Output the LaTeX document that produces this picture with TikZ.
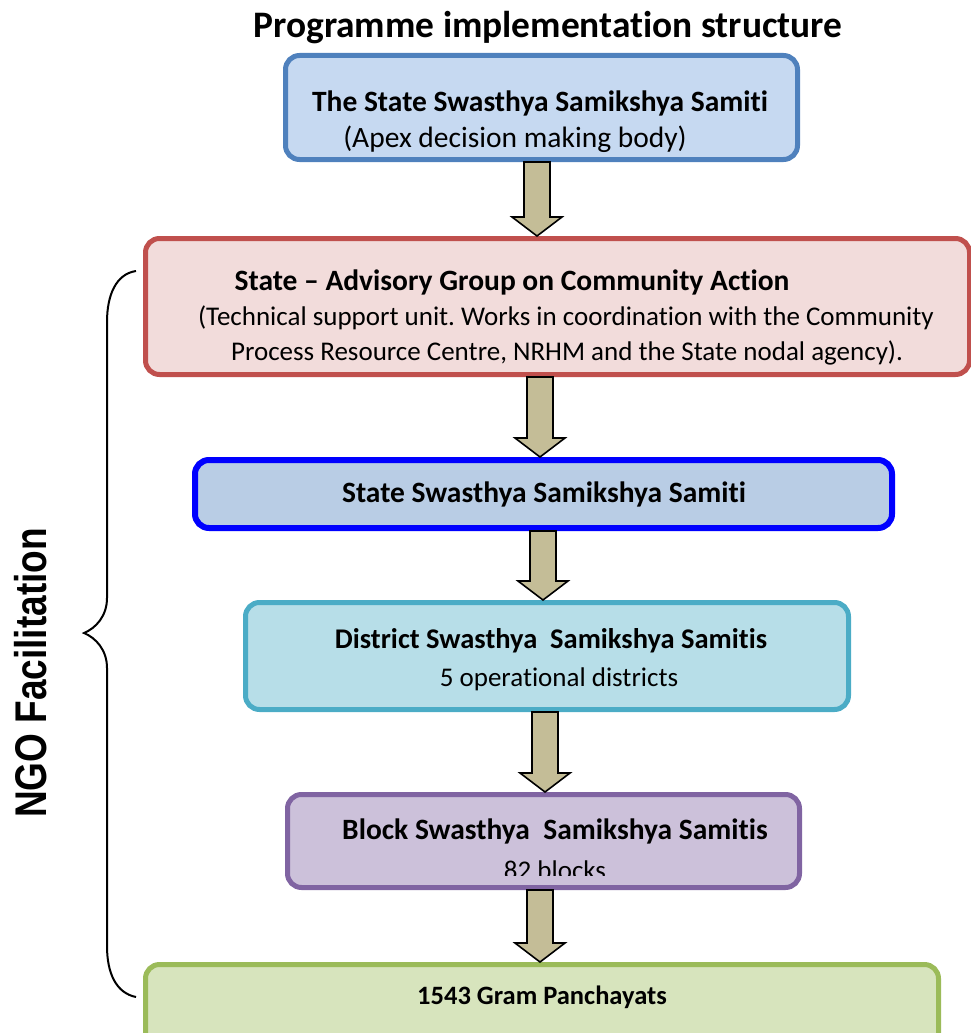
\documentclass[tikz,border=0pt]{standalone}
\usepackage{fontspec}
\setmainfont{Carlito}[Ligatures=NoCommon]
\newfontfamily\arialfont{Liberation Sans}
\usetikzlibrary{calc}
\frenchspacing
\definecolor{bAfill}{HTML}{C6D9F1}
\definecolor{bAline}{HTML}{4F81BD}
\definecolor{bRfill}{HTML}{F2DCDB}
\definecolor{bRline}{HTML}{C0504D}
\definecolor{bBfill}{HTML}{B9CDE5}
\definecolor{bBline}{HTML}{0000FF}
\definecolor{bCfill}{HTML}{B7DEE8}
\definecolor{bCline}{HTML}{4BACC6}
\definecolor{bPfill}{HTML}{CCC1DA}
\definecolor{bPline}{HTML}{8064A2}
\definecolor{bGfill}{HTML}{D7E4BD}
\definecolor{bGline}{HTML}{9BBB59}
\definecolor{arrfill}{HTML}{C4BD97}
\tikzset{
  box/.style={rectangle, rounded corners=14pt, line width=5pt, inner sep=0pt},
  barrow/.style={fill=arrfill, draw=black, line width=1.6pt, line join=miter},
  tb/.style={anchor=base, inner sep=0pt, font=\fontsize{29.5}{35}\selectfont\bfseries},
  tr/.style={anchor=base, inner sep=0pt, font=\fontsize{27}{33}\selectfont},
}
\newcommand{\blockarrow}[3]{%
  \draw[barrow] let \p1=(#1.south), \p2=(#2.north) in
  (#3pt-13pt,\y1) -- (#3pt+13pt,\y1) -- (#3pt+13pt,\y2+19pt) -- (#3pt+25pt,\y2+19pt)
  -- (#3pt,\y2) -- (#3pt-25pt,\y2+19pt) -- (#3pt-13pt,\y2+19pt) -- cycle;}
\begin{document}
\begin{tikzpicture}[x=1pt,y=-1pt]
\useasboundingbox (0,0) rectangle (971,1033);
% title
\node[anchor=base, inner sep=0pt, font=\fontsize{37.4}{44}\selectfont\bfseries] (title) at (548,38) {Programme implementation structure};
% boxes
\node[box, draw=bAline, fill=bAfill, minimum width=512pt, minimum height=104pt] (b1) at (541.5,107.5) {};
\node[box, draw=bRline, fill=bRfill, minimum width=824pt, minimum height=136pt] (b2) at (557.5,306.5) {};
\node[box, line width=6pt, draw=bBline, fill=bBfill, minimum width=697pt, minimum height=68pt] (b3) at (543.5,494) {};
\node[box, draw=bCline, fill=bCfill, minimum width=603pt, minimum height=107pt] (b4) at (547,656) {};
\node[box, draw=bPline, fill=bPfill, minimum width=512pt, minimum height=93pt] (b5) at (543.5,841) {};
\node[box, draw=bGline, fill=bGfill, minimum width=793pt, minimum height=103pt] (b6) at (542,1016) {};
% texts
\node[tb] (t1a) at (540,111) {The State Swasthya Samikshya Samiti};
\node[tr, font=\fontsize{29.5}{35}\selectfont] (t1b) at (515,147) {(Apex decision making body)};
\node[tb] (t2a) at (512,290) {State -- Advisory Group on Community Action};
\node[tr] (t2b) at (566,325) {(Technical support unit. Works in coordination with the Community};
\node[tr] (t2c) at (567,360) {Process Resource Centre, NRHM and the State nodal agency).};
\node[tb] (t3) at (544,502) {State Swasthya Samikshya Samiti};
\node[tb, font=\fontsize{28.5}{34}\selectfont\bfseries] (t4a) at (551,648) {District Swasthya\ \ Samikshya Samitis};
\node[tr] (t4b) at (559,686) {5 operational districts};
\node[tb] (t5a) at (555,839) {Block Swasthya\ \ Samikshya Samitis};
\begin{scope}
\clip (300,850) rectangle (800,875.5);
\node[tr] (t5b) at (555,879) {82 blocks};
\end{scope}
\node[anchor=base, inner sep=0pt, font=\fontsize{26.5}{32}\selectfont\bfseries] (t6) at (542,1004) {1543 Gram Panchayats};
% arrows
\blockarrow{b1}{b2}{537}
\blockarrow{b2}{b3}{540}
\blockarrow{b3}{b4}{543}
\blockarrow{b4}{b5}{545}
\blockarrow{b5}{b6}{540}
% brace
\draw[line width=2pt] (136,271) .. controls (116,274) and (107,295) .. (107,322) -- (107,598)
  .. controls (107,616) and (96,628) .. (84,633)
  .. controls (96,638) and (107,650) .. (107,668) -- (107,946)
  .. controls (107,973) and (116,993) .. (136,997);
\node[rotate=90, inner sep=0pt, font=\arialfont\fontsize{37}{44}\selectfont\bfseries] (ngo) at (31,673) {\scalebox{1}[1.2]{NGO Facilitation}};
\end{tikzpicture}
\end{document}
